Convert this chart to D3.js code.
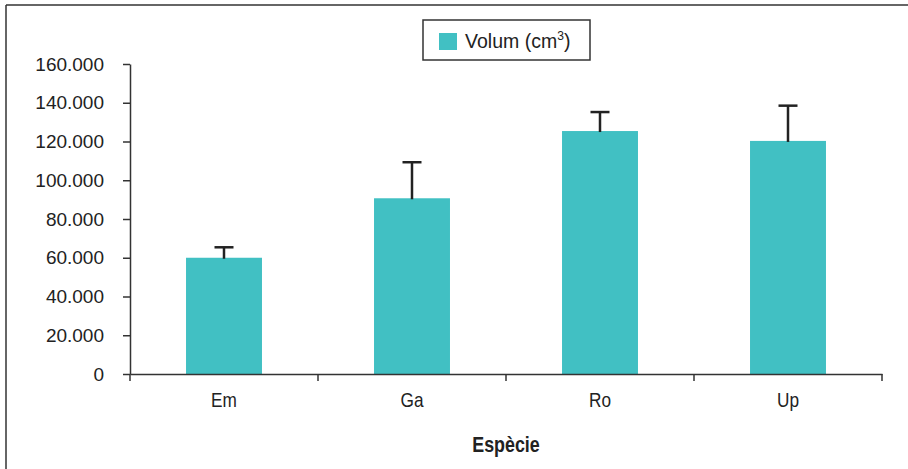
<!DOCTYPE html>
<html><head><meta charset="utf-8">
<script src="https://cdn.jsdelivr.net/npm/d3@7"></script>
<style>
html,body{margin:0;padding:0;background:#fff;}
svg{display:block;}
.tick text{font-family:"Liberation Sans",Arial,sans-serif;}
</style></head>
<body>
<svg id="chart" width="908" height="469"></svg>
<script>
const categories = ["Em","Ga","Ro","Up"];
const values = [60000, 90700, 125400, 120300];
const errors = [5400, 18600, 9800, 18200];
const yTicks = [0,20000,40000,60000,80000,100000,120000,140000,160000];
const seriesName = "Volum (cm";
const xTitle = "Espècie";

(function(){
const svg = d3.select("#chart");
const W = 908, H = 469;
const mLeft = 130, mRight = 882, mTop = 64, mBottom = 374;
const barColor = "#41c0c3";
const axisColor = "#333";
const font = "'Liberation Sans',Arial,sans-serif";

// frame (top and left lines)
svg.append("line").attr("x1",6).attr("x2",W).attr("y1",5).attr("y2",5).attr("stroke","#333").attr("stroke-width",1.5);
svg.append("line").attr("x1",6).attr("x2",6).attr("y1",5).attr("y2",H).attr("stroke","#333").attr("stroke-width",1.5);

const x = d3.scaleBand().domain(categories).range([mLeft,mRight]).paddingInner(0.596).paddingOuter(0.298);
const y = d3.scaleLinear().domain([0,160000]).range([mBottom,mTop]);

const loc = d3.formatLocale({decimal:",",thousands:".",grouping:[3],currency:["","€"]});
const fmt = loc.format(",");

// bars
svg.append("g").selectAll("rect").data(categories).join("rect")
  .attr("x",d=>x(d)).attr("width",x.bandwidth())
  .attr("y",(d,i)=>y(values[i])).attr("height",(d,i)=>y(0)-y(values[i]))
  .attr("fill",barColor);

// error bars
const eg = svg.append("g").attr("stroke","#222").attr("stroke-width",2.5);
categories.forEach((c,i)=>{
  const cx = x(c)+x.bandwidth()/2;
  eg.append("line").attr("x1",cx).attr("x2",cx).attr("y1",y(values[i])+1).attr("y2",y(values[i]+errors[i]));
  eg.append("line").attr("x1",cx-9.5).attr("x2",cx+9.5).attr("y1",y(values[i]+errors[i])).attr("y2",y(values[i]+errors[i]));
});

// y axis
const yAxis = d3.axisLeft(y).tickValues(yTicks).tickFormat(d=>fmt(d)).tickSize(7).tickPadding(19).tickSizeOuter(0);
const gy = svg.append("g").attr("transform",`translate(${mLeft},0)`).call(yAxis);
gy.select(".domain").attr("stroke",axisColor).attr("stroke-width",1.5);
gy.selectAll(".tick line").attr("stroke",axisColor).attr("stroke-width",1.5);
gy.selectAll(".tick text").attr("font-size",19).attr("fill","#222");

// x axis
const gx = svg.append("g").attr("transform",`translate(0,${mBottom})`).call(d3.axisBottom(x).tickSize(0).tickPadding(18).tickSizeOuter(0));
gx.select(".domain").attr("stroke",axisColor).attr("stroke-width",1.5);
gx.selectAll(".tick text").attr("fill","#222").attr("font-size",21).attr("transform","scale(0.82,1)");
// boundary ticks
const bounds = [mLeft].concat(categories.map(c=>x(c)+x.bandwidth()/2+x.step()/2));
svg.append("g").selectAll("line").data(bounds).join("line")
  .attr("x1",d=>d).attr("x2",d=>d).attr("y1",mBottom).attr("y2",mBottom+7)
  .attr("stroke",axisColor).attr("stroke-width",1.5);

// x title
svg.append("g").attr("transform",`translate(${(mLeft+mRight)/2},452) scale(0.83,1)`)
  .append("text").attr("text-anchor","middle")
  .style("font-family",font)
  .attr("font-size",21.5).attr("font-weight","bold").attr("fill","#222").text(xTitle);

// legend
svg.append("rect").attr("x",423).attr("y",20).attr("width",167).attr("height",40)
  .attr("fill","#fff").attr("stroke","#333").attr("stroke-width",1.5);
svg.append("rect").attr("x",439).attr("y",33).attr("width",18).attr("height",17).attr("fill",barColor);
const lt = svg.append("g").attr("transform","translate(465,48) scale(0.93,1)").append("text")
  .style("font-family",font).attr("font-size",21).attr("fill","#222");
lt.append("tspan").text(seriesName);
lt.append("tspan").attr("font-size",13).attr("dy",-8).text("3");
lt.append("tspan").attr("dy",8).text(")");
})();
</script>
</body></html>
